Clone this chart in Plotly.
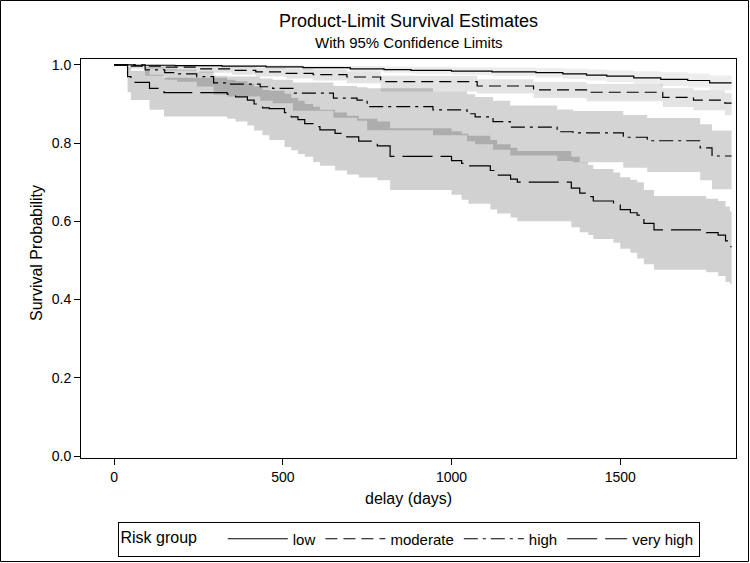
import plotly.graph_objects as go

# ---------------- data ----------------
END_T = 1830

lo_t = [0, 60, 180, 320, 450, 560, 700, 800, 880, 1000, 1120, 1250, 1330, 1400, 1460, 1540, 1620, 1700, 1765]
lo_s = [1.0, 0.999, 0.998, 0.997, 0.995, 0.993, 0.99, 0.988, 0.986, 0.984, 0.982, 0.98, 0.977, 0.974, 0.971, 0.967, 0.963, 0.96, 0.954]
lo_lcl = [1.0, 0.997, 0.995, 0.993, 0.99, 0.987, 0.983, 0.98, 0.977, 0.974, 0.971, 0.968, 0.964, 0.96, 0.956, 0.951, 0.946, 0.942, 0.935]
lo_ucl = [1.0, 1.0, 1.0, 0.999, 0.999, 0.998, 0.997, 0.996, 0.995, 0.994, 0.993, 0.992, 0.99, 0.988, 0.986, 0.984, 0.981, 0.978, 0.973]

mo_t = [0, 47, 150, 250, 350, 420, 510, 590, 690, 790, 1076, 1243, 1400, 1626, 1717, 1810]
mo_s = [1.0, 0.997, 0.994, 0.99, 0.986, 0.982, 0.978, 0.975, 0.969, 0.957, 0.946, 0.936, 0.930, 0.917, 0.910, 0.902]
mo_lcl = [1.0, 0.99, 0.985, 0.98, 0.975, 0.97, 0.965, 0.96, 0.953, 0.932, 0.927, 0.915, 0.907, 0.892, 0.884, 0.872]
mo_ucl = [1.0, 1.0, 0.999, 0.997, 0.995, 0.992, 0.99, 0.987, 0.983, 0.972, 0.963, 0.956, 0.951, 0.94, 0.935, 0.928]

hi_t = [0, 92, 150, 187, 245, 295, 335, 433, 470, 530, 650, 720, 750, 945, 1046, 1070, 1123, 1174, 1313, 1360, 1509, 1580, 1737, 1772]
hi_s = [1.0, 0.987, 0.980, 0.977, 0.970, 0.954, 0.951, 0.944, 0.940, 0.928, 0.915, 0.910, 0.893, 0.885, 0.875, 0.867, 0.855, 0.841, 0.829, 0.826, 0.815, 0.806, 0.788, 0.767]
hi_lcl = [1.0, 0.972, 0.962, 0.957, 0.945, 0.924, 0.919, 0.908, 0.902, 0.883, 0.865, 0.857, 0.833, 0.82, 0.805, 0.797, 0.783, 0.768, 0.754, 0.751, 0.737, 0.726, 0.705, 0.682]
hi_ucl = [1.0, 0.995, 0.99, 0.988, 0.983, 0.972, 0.97, 0.965, 0.962, 0.955, 0.946, 0.943, 0.94, 0.932, 0.925, 0.918, 0.908, 0.896, 0.886, 0.882, 0.872, 0.864, 0.848, 0.832]

vh_t = [0, 40, 50, 105, 148, 335, 360, 395, 415, 440, 460, 505, 525, 545, 565, 590, 610, 655, 690, 725,
        780, 818, 1000, 1030, 1050, 1115, 1135, 1175, 1195, 1355, 1380, 1405, 1420, 1480, 1500, 1530, 1550,
        1570, 1600, 1755, 1790, 1812, 1825]
vh_s = [1.0, 0.97, 0.955, 0.94, 0.929, 0.925, 0.918, 0.91, 0.90, 0.89, 0.888, 0.878, 0.867, 0.86, 0.85, 0.842,
        0.834, 0.825, 0.816, 0.805, 0.793, 0.766, 0.755, 0.748, 0.742, 0.73, 0.718, 0.708, 0.70, 0.685, 0.672,
        0.663, 0.652, 0.642, 0.63, 0.622, 0.616, 0.595, 0.578, 0.571, 0.565, 0.55, 0.535]
vh_lcl = [1.0, 0.93, 0.91, 0.885, 0.868, 0.862, 0.855, 0.845, 0.832, 0.82, 0.808, 0.79, 0.782, 0.772, 0.765,
          0.752, 0.742, 0.73, 0.72, 0.712, 0.705, 0.68, 0.668, 0.655, 0.645, 0.63, 0.62, 0.61, 0.60, 0.585,
          0.572, 0.565, 0.555, 0.545, 0.53, 0.52, 0.505, 0.49, 0.476, 0.47, 0.46, 0.445, 0.44]
vh_ucl = [1.0, 0.995, 0.985, 0.975, 0.967, 0.962, 0.958, 0.952, 0.945, 0.936, 0.934, 0.926, 0.915, 0.908, 0.90,
          0.893, 0.885, 0.878, 0.87, 0.862, 0.855, 0.838, 0.83, 0.824, 0.819, 0.808, 0.797, 0.788, 0.78, 0.765,
          0.752, 0.744, 0.734, 0.725, 0.713, 0.706, 0.70, 0.68, 0.665, 0.658, 0.652, 0.638, 0.625]

group_names = ["low", "moderate", "high", "very high"]
x_ticks = [0, 500, 1000, 1500]
y_ticks = [0.0, 0.2, 0.4, 0.6, 0.8, 1.0]

# ---------------- styles ----------------
FONT = "Liberation Sans, Arial, sans-serif"
band_alpha = [0.07, 0.11, 0.17, 0.18]
dashes = ["solid", "12px,6px", "14px,5px,3px,5px", "30px,8px"]

groups = [
    (lo_t, lo_s, lo_lcl, lo_ucl),
    (mo_t, mo_s, mo_lcl, mo_ucl),
    (hi_t, hi_s, hi_lcl, hi_ucl),
    (vh_t, vh_s, vh_lcl, vh_ucl),
]


def extend(t, v):
    return list(t) + [END_T], list(v) + [v[-1]]


fig = go.Figure()

# confidence bands
for (t, s, lcl, ucl), a in zip(groups, band_alpha):
    x, yl = extend(t, lcl)
    _, yu = extend(t, ucl)
    fig.add_trace(go.Scatter(x=x, y=yl, mode="lines", line=dict(width=0, shape="hv"),
                             showlegend=False, hoverinfo="skip"))
    fig.add_trace(go.Scatter(x=x, y=yu, mode="lines", line=dict(width=0, shape="hv"),
                             fill="tonexty", fillcolor=f"rgba(0,0,0,{a})",
                             showlegend=False, hoverinfo="skip"))

# survival curves
for (t, s, lcl, ucl), name, d in zip(groups, group_names, dashes):
    x, y = extend(t, s)
    fig.add_trace(go.Scatter(x=x, y=y, mode="lines", name=name,
                             line=dict(color="black", width=1.2, shape="hv", dash=d)))

PW, PH = 655, 399
ML, MT = 81, 59

fig.update_layout(
    width=750, height=563, autosize=False,
    margin=dict(l=ML, r=750 - ML - PW, t=MT, b=563 - MT - PH, pad=0, autoexpand=False),
    paper_bgcolor="white", plot_bgcolor="white",
    font=dict(family=FONT, color="black", size=14),
    showlegend=True,
    legend=dict(orientation="h", x=0.5, xanchor="center", y=(458 - 539) / PH, yanchor="middle",
                traceorder="normal",
                title=dict(text="Risk group    ", side="left", font=dict(size=16)),
                font=dict(size=15), bordercolor="black", borderwidth=1, bgcolor="white",
                itemwidth=60, tracegroupgap=0),
    xaxis=dict(range=[-98, 1843], tickvals=x_ticks, ticks="outside", ticklen=6, tickwidth=1,
               tickcolor="black", showline=True, linecolor="black", linewidth=1, mirror=True,
               showgrid=False, zeroline=False, tickfont=dict(size=14)),
    yaxis=dict(range=[-0.005, 1.015], tickvals=y_ticks, tickformat=".1f", ticks="outside", ticklen=6,
               tickwidth=1, tickcolor="black", showline=True, linecolor="black", linewidth=1, mirror=True,
               showgrid=False, zeroline=False, tickfont=dict(size=14)),
    annotations=[
        dict(text="Product-Limit Survival Estimates", x=0.5, y=(458 - 21) / PH, xref="paper", yref="paper",
             showarrow=False, font=dict(size=18), xanchor="center", yanchor="middle"),
        dict(text="With 95% Confidence Limits", x=0.5, y=(458 - 42) / PH, xref="paper", yref="paper",
             showarrow=False, font=dict(size=15), xanchor="center", yanchor="middle"),
        dict(text="delay (days)", x=0.5, y=(458 - 498) / PH, xref="paper", yref="paper",
             showarrow=False, font=dict(size=16), xanchor="center", yanchor="middle"),
        dict(text="Survival Probability", x=(36 - ML) / PW, y=(458 - 253) / PH, xref="paper", yref="paper",
             showarrow=False, font=dict(size=16), textangle=-90, xanchor="center", yanchor="middle"),
    ],
    shapes=[
        dict(type="rect", xref="paper", yref="paper",
             x0=(0.5 - ML) / PW, x1=(748.5 - ML) / PW, y0=(458 - 561.5) / PH, y1=(458 - 0.5) / PH,
             line=dict(color="black", width=1), fillcolor="rgba(0,0,0,0)", layer="above"),
    ],
)

fig.write_html("out.html", config={"displayModeBar": False},
               post_script="document.body.style.margin='0';document.body.style.overflow='hidden';")
